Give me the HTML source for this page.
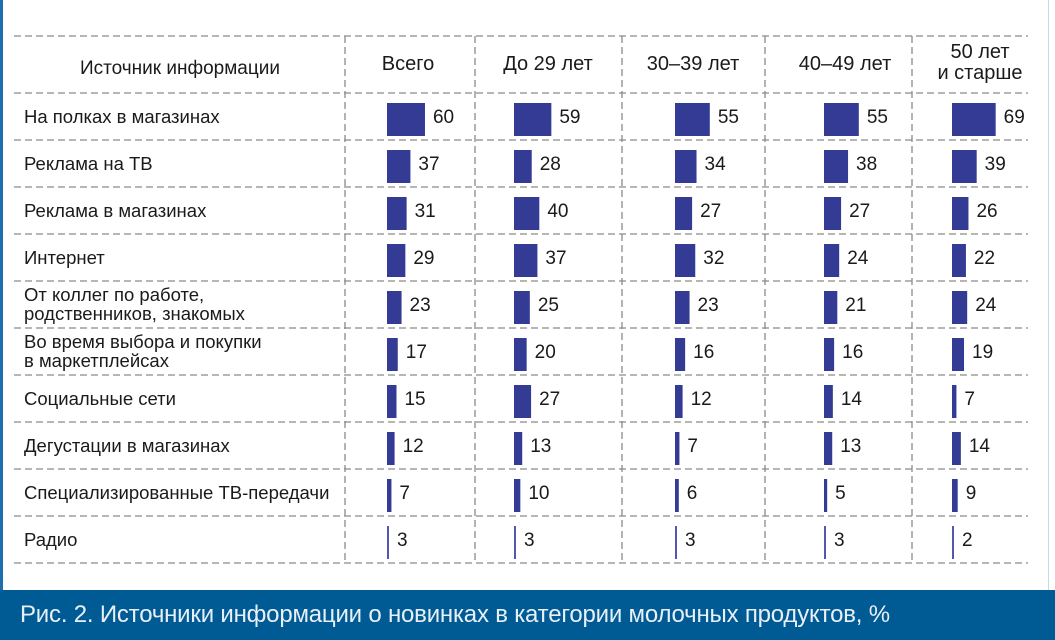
<!DOCTYPE html>
<html><head><meta charset="utf-8">
<style>
html,body{margin:0;padding:0;background:#fff;}
body{width:1055px;height:640px;overflow:hidden;position:relative;font-family:"Liberation Sans",sans-serif;}
#frame{position:absolute;left:0;top:0;width:1049px;height:590px;border-left:3px solid #1d6fb0;border-right:1px solid #c9d9e6;box-sizing:border-box;}
#caption{position:absolute;left:0;top:590px;width:1055px;height:50px;background:#005a94;color:#e8f0f7;font-size:24px;line-height:50px;padding-left:20px;box-sizing:border-box;letter-spacing:-0.2px;}
svg{position:absolute;left:0;top:0;}
</style></head><body>
<div id="frame"></div>
<svg id="chart" width="1055" height="590"></svg>
<div id="caption">Рис. 2. Источники информации о новинках в категории молочных продуктов, %</div>
<script>
const categories=[["На полках в магазинах"],["Реклама на ТВ"],["Реклама в магазинах"],["Интернет"],["От коллег по работе,","родственников, знакомых"],["Во время выбора и покупки","в маркетплейсах"],["Социальные сети"],["Дегустации в магазинах"],["Специализированные ТВ-передачи"],["Радио"]];
const columns=[["Всего"],["До 29 лет"],["30–39 лет"],["40–49 лет"],["50 лет","и старше"]];
const seriesTotal=[60,37,31,29,23,17,15,12,7,3];
const seriesUnder29=[59,28,40,37,25,20,27,13,10,3];
const series30to39=[55,34,27,32,23,16,12,7,6,3];
const series40to49=[55,38,27,24,21,16,14,13,5,3];
const series50plus=[69,39,26,22,24,19,7,14,9,2];
const allSeries=[seriesTotal,seriesUnder29,series30to39,series40to49,series50plus];

const NS="http://www.w3.org/2000/svg";
const svg=document.getElementById('chart');
const top0=36,headBottom=93,rowH=47,left=14,right=1028;
const vlines=[345,475,622,765,912];
const barStart=[387,514,675,824,952];
const scale=0.633;
function el(t,a){const e=document.createElementNS(NS,t);for(const k in a)e.setAttribute(k,a[k]);svg.appendChild(e);return e;}
function x(v){return v*scale;}
function rowY(i){return headBottom+i*rowH;}
const hys=[top0,headBottom];for(let i=1;i<=categories.length;i++)hys.push(rowY(i));
hys.forEach((y,i)=>{const l=el('line',{x1:left,x2:right,y1:y,y2:y,stroke:'#8a8a8a','stroke-width':1.3,'stroke-dasharray':'7,4'});

});
vlines.forEach(vx=>{const l=el('line',{x1:vx,x2:vx,y1:top0,y2:rowY(categories.length),stroke:'#8a8a8a','stroke-width':1.3,'stroke-dasharray':'7,4'});

});
function text(s,xx,y,size,anchor){const t=el('text',{x:xx,y:y,'font-size':size,fill:'#1a1a1a','text-anchor':anchor||'start','font-family':'Liberation Sans, sans-serif'});t.textContent=s;return t;}
let h=text("Источник информации",180,74,19,'middle');


const colCenters=[408,548,693,845,980];
columns.forEach((c,j)=>{
  if(c.length===1){const t=text(c[0],colCenters[j],70,20,'middle');
    
    }
  else c.forEach((s,k)=>{const t=text(s,colCenters[j],58+k*21,20,'middle');
    
    });
});
categories.forEach((c,i)=>{
  const y0=rowY(i);
  if(c.length===1){const t=text(c[0],24,y0+30,18.5);
    
    }
  else c.forEach((s,k)=>{const t=text(s,24,y0+20+k*19,18.5);
    
    });
  allSeries.forEach((ser,j)=>{
    const v=ser[i];const w=Math.max(x(v),2);
    const b=el('rect',{x:barStart[j],y:y0+10,width:w,height:rowH-14,fill:v<=3?'#5058b0':'#343b94'});
    
    
    const t=text(String(v),barStart[j]+w+8,y0+30,19);
    
    
  });
});
</script>
</body></html>
